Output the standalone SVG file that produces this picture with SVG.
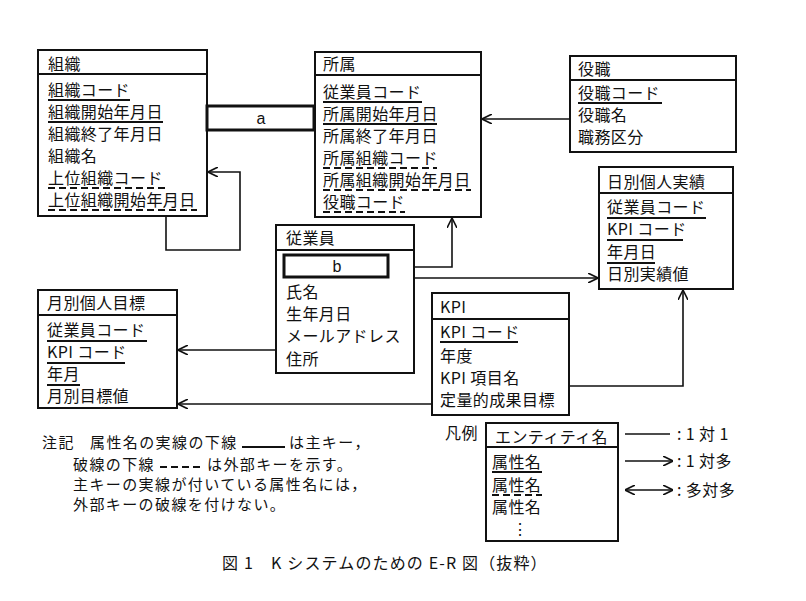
<svg xmlns="http://www.w3.org/2000/svg" width="806" height="601" viewBox="0 0 806 601">
<style>
.box{fill:#fff;stroke:#111;stroke-width:2}
.kbox{fill:#fff;stroke:#111;stroke-width:3}
.t{font-family:"Noto Sans CJK JP","Noto Sans CJK SC",sans-serif;font-size:16px;fill:#111;letter-spacing:0.4px}
.n{font-family:"Noto Sans CJK JP","Noto Sans CJK SC",sans-serif;font-size:15px;fill:#111;letter-spacing:1.4px}
.c{font-family:"Liberation Sans",Arial,sans-serif;font-size:16px;fill:#111;text-anchor:middle}
.pk{stroke:#111;stroke-width:2;fill:none}
.fk{stroke:#111;stroke-width:2;stroke-dasharray:7 4;fill:none}
.conn{fill:none;stroke:#111;stroke-width:1.6}
</style>
<defs>
<marker id="arr" viewBox="0 0 10 10" refX="10" refY="5" markerWidth="10" markerHeight="10" markerUnits="userSpaceOnUse" orient="auto-start-reverse">
<path d="M0,0 L10,5 L0,10" fill="none" stroke="#111" stroke-width="1.6"/>
</marker>
</defs>
<rect width="806" height="601" fill="#fff"/>

<g id="connectors">
<path class="conn" d="M570,119 H482" marker-end="url(#arr)"/>
<path class="conn" d="M166,216 V250 H240 V172 H208" marker-end="url(#arr)"/>
<path class="conn" d="M414,267 H452 V218" marker-end="url(#arr)"/>
<path class="conn" d="M414,278 H598" marker-end="url(#arr)"/>
<path class="conn" d="M569,386 H683 V290" marker-end="url(#arr)"/>
<path class="conn" d="M276,350 H178" marker-end="url(#arr)"/>
<path class="conn" d="M432,404 H178" marker-end="url(#arr)"/>
</g>

<g id="soshiki">
<rect class="box" x="38" y="50" width="169" height="166"/>
<line class="pk" x1="38" y1="74" x2="207" y2="74"/>
<text class="t" x="48" y="70">組織</text>
<text class="t" x="48" y="96">組織コード</text>
<line class="pk" x1="48" y1="100" x2="130" y2="100"/>
<text class="t" x="48" y="118">組織開始年月日</text>
<line class="pk" x1="48" y1="122" x2="163" y2="122"/>
<text class="t" x="48" y="140">組織終了年月日</text>
<text class="t" x="48" y="162">組織名</text>
<text class="t" x="48" y="184">上位組織コード</text>
<line class="fk" x1="48" y1="188" x2="165" y2="188"/>
<text class="t" x="48" y="206">上位組織開始年月日</text>
<line class="fk" x1="48" y1="210" x2="197" y2="210"/>
</g>

<g id="rel-a">
<rect class="kbox" x="207" y="106" width="107" height="24"/>
<text class="c" x="261" y="124">a</text>
</g>

<g id="shozoku">
<rect class="box" x="315" y="52" width="166" height="165"/>
<line class="pk" x1="315" y1="75" x2="481" y2="75"/>
<text class="t" x="323" y="70">所属</text>
<text class="t" x="323" y="98">従業員コード</text>
<line class="pk" x1="323" y1="102" x2="422" y2="102"/>
<text class="t" x="323" y="120">所属開始年月日</text>
<line class="pk" x1="323" y1="124" x2="437" y2="124"/>
<text class="t" x="323" y="142">所属終了年月日</text>
<text class="t" x="323" y="164">所属組織コード</text>
<line class="fk" x1="323" y1="168" x2="437" y2="168"/>
<text class="t" x="323" y="186">所属組織開始年月日</text>
<line class="fk" x1="323" y1="190" x2="471" y2="190"/>
<text class="t" x="323" y="208">役職コード</text>
<line class="fk" x1="323" y1="212" x2="405" y2="212"/>
</g>

<g id="yakushoku">
<rect class="box" x="570" y="56" width="166" height="96"/>
<line class="pk" x1="570" y1="80" x2="736" y2="80"/>
<text class="t" x="578" y="75">役職</text>
<text class="t" x="578" y="99">役職コード</text>
<line class="pk" x1="578" y1="103" x2="662" y2="103"/>
<text class="t" x="578" y="121">役職名</text>
<text class="t" x="578" y="143">職務区分</text>
</g>

<g id="nichibetsu">
<rect class="box" x="599" y="167" width="134" height="122"/>
<line class="pk" x1="599" y1="193" x2="733" y2="193"/>
<text class="t" x="607" y="188">日別個人実績</text>
<text class="t" x="607" y="213">従業員コード</text>
<line class="pk" x1="607" y1="218" x2="706" y2="218"/>
<text class="t" x="607" y="235">KPI コード</text>
<line class="pk" x1="607" y1="240" x2="683" y2="240"/>
<text class="t" x="607" y="258">年月日</text>
<line class="pk" x1="607" y1="263" x2="655" y2="263"/>
<text class="t" x="607" y="280">日別実績値</text>
</g>

<g id="jugyoin">
<rect class="box" x="276" y="225" width="138" height="148"/>
<line class="pk" x1="276" y1="250" x2="414" y2="250"/>
<text class="t" x="286" y="244">従業員</text>
<rect class="kbox" x="284" y="255" width="104" height="22"/>
<text class="c" x="337" y="272">b</text>
<text class="t" x="286" y="298">氏名</text>
<text class="t" x="286" y="320">生年月日</text>
<text class="t" x="286" y="342">メールアドレス</text>
<text class="t" x="286" y="365">住所</text>
</g>

<g id="getsubetsu">
<rect class="box" x="38" y="290" width="139" height="118"/>
<line class="pk" x1="38" y1="315" x2="177" y2="315"/>
<text class="t" x="47" y="309">月別個人目標</text>
<text class="t" x="47" y="336">従業員コード</text>
<line class="pk" x1="47" y1="341" x2="147" y2="341"/>
<text class="t" x="47" y="358">KPI コード</text>
<line class="pk" x1="47" y1="363" x2="125" y2="363"/>
<text class="t" x="47" y="380">年月</text>
<line class="pk" x1="47" y1="385" x2="80" y2="385"/>
<text class="t" x="47" y="402">月別目標値</text>
</g>

<g id="kpi">
<rect class="box" x="432" y="293" width="137" height="122"/>
<line class="pk" x1="432" y1="319" x2="569" y2="319"/>
<text class="t" x="440" y="313">KPI</text>
<text class="t" x="440" y="338">KPI コード</text>
<line class="pk" x1="440" y1="342" x2="518" y2="342"/>
<text class="t" x="440" y="362">年度</text>
<text class="t" x="440" y="384">KPI 項目名</text>
<text class="t" x="440" y="406">定量的成果目標</text>
</g>

<g id="note">
<text class="n" x="42" y="448">注記</text>
<text class="n" x="90" y="448">属性名の実線の下線</text>
<line class="pk" x1="242" y1="447" x2="285" y2="447"/>
<text class="n" x="289" y="448">は主キー，</text>
<text class="n" x="73" y="470">破線の下線</text>
<line class="fk" x1="160" y1="467" x2="203" y2="467"/>
<text class="n" x="207" y="470">は外部キーを示す。</text>
<text class="n" x="73" y="490">主キーの実線が付いている属性名には，</text>
<text class="n" x="73" y="510">外部キーの破線を付けない。</text>
</g>

<g id="legend">
<text class="t" x="445" y="439">凡例</text>
<rect class="box" x="486" y="423" width="132" height="118"/>
<line class="pk" x1="486" y1="447" x2="618" y2="447"/>
<text class="t" x="495" y="443">エンティティ名</text>
<text class="t" x="492" y="468">属性名</text>
<line class="pk" x1="492" y1="472" x2="542" y2="472"/>
<text class="t" x="492" y="491">属性名</text>
<line class="fk" x1="492" y1="495" x2="542" y2="495"/>
<text class="t" x="492" y="513">属性名</text>
<text class="t" x="512" y="535">⋮</text>
<line class="conn" x1="625" y1="434" x2="670" y2="434"/>
<text class="t" x="677" y="440">: 1 対 1</text>
<path class="conn" d="M625,461 H673" marker-end="url(#arr)"/>
<text class="t" x="677" y="467">: 1 対多</text>
<path class="conn" d="M625,490 H673" marker-start="url(#arr)" marker-end="url(#arr)"/>
<text class="t" x="677" y="496">: 多対多</text>
</g>

<g id="caption">
<text class="t" x="222" y="569" textLength="325" lengthAdjust="spacing">図 1　K システムのための E-R 図（抜粋）</text>
</g>
</svg>
